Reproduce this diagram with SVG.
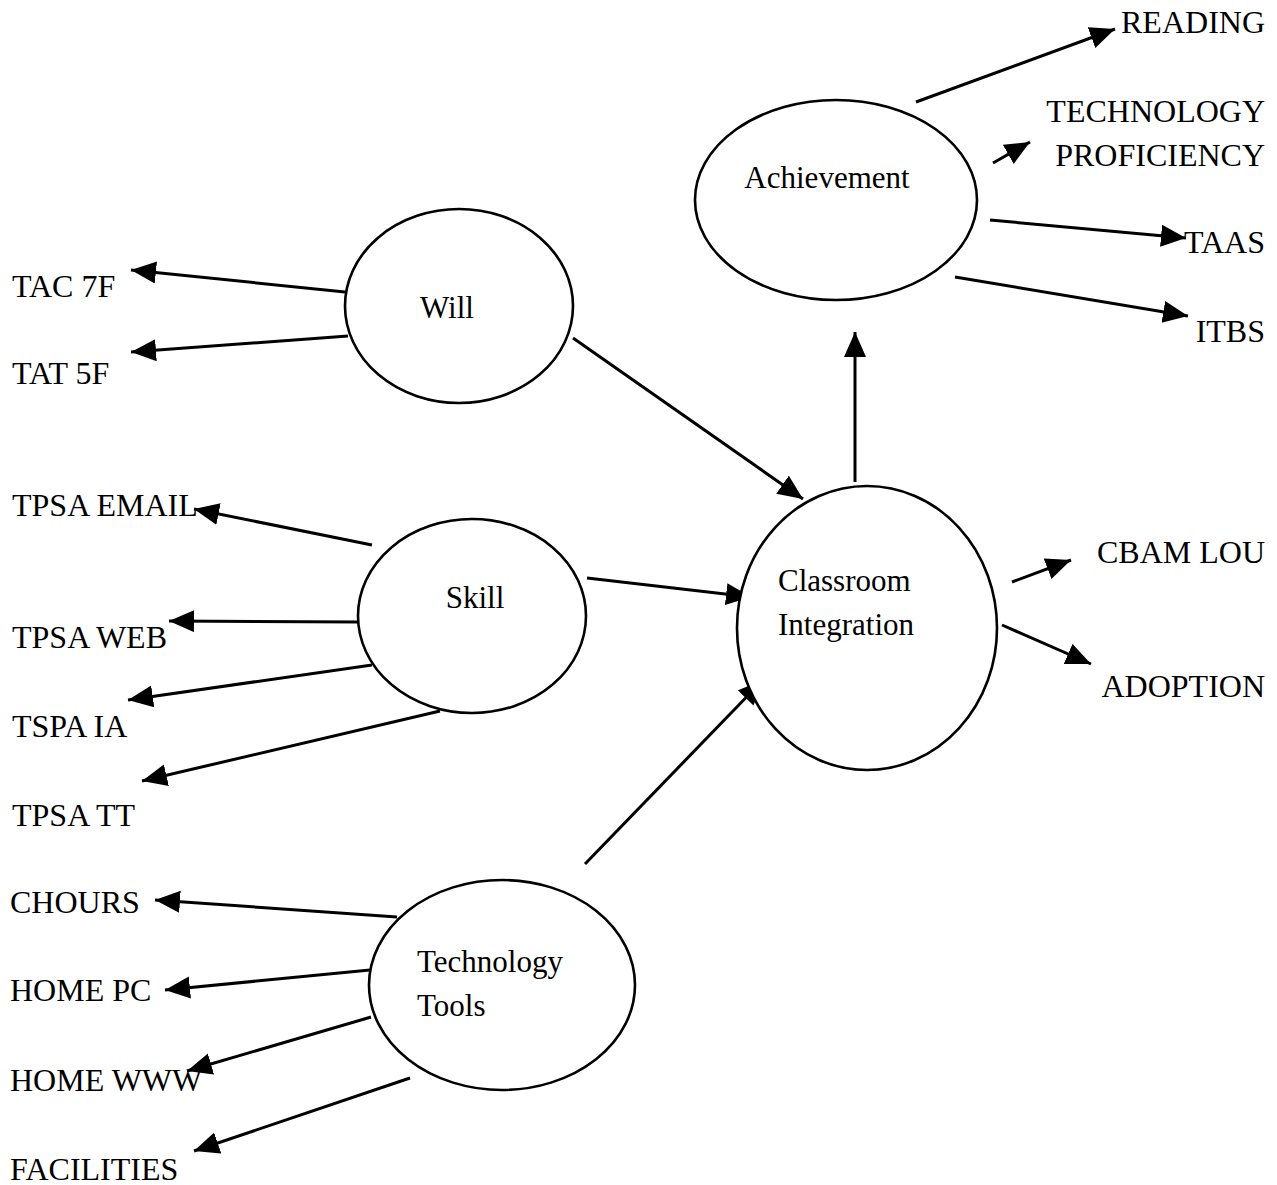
<svg xmlns="http://www.w3.org/2000/svg" width="1277" height="1185" viewBox="0 0 1277 1185">
<defs>
<marker id="ah" markerUnits="userSpaceOnUse" markerWidth="28" markerHeight="24" refX="25" refY="11" orient="auto">
<path d="M0,0 L25,11 L0,22 z" fill="#000"/>
</marker>
<style>
.n{fill:#fff;stroke:#000;stroke-width:2.6}
.t{font-family:"Liberation Serif","Times New Roman",serif;font-size:32px;fill:#000}
.nt{font-family:"Liberation Serif","Times New Roman",serif;font-size:31px;fill:#000}
.c line{stroke:#000;stroke-width:3;marker-end:url(#ah)}
</style>
</defs>
<rect width="1277" height="1185" fill="#fff"/>
<g id="connectors" class="c">
<line x1="916" y1="102" x2="1115" y2="29"/>
<line x1="993" y1="163" x2="1030" y2="142"/>
<line x1="990" y1="220" x2="1186" y2="238"/>
<line x1="955" y1="277" x2="1188" y2="316"/>
<line x1="855" y1="482" x2="855" y2="332"/>
<line x1="345" y1="292" x2="131" y2="270"/>
<line x1="348" y1="336" x2="131" y2="352"/>
<line x1="573" y1="338" x2="803" y2="499"/>
<line x1="372" y1="545" x2="194" y2="509"/>
<line x1="358" y1="622" x2="169" y2="621"/>
<line x1="372" y1="665" x2="128" y2="700"/>
<line x1="440" y1="711" x2="142" y2="781"/>
<line x1="587" y1="578" x2="751" y2="597"/>
<line x1="585" y1="864" x2="763" y2="680"/>
<line x1="397" y1="917" x2="155" y2="900"/>
<line x1="370" y1="970" x2="165" y2="990"/>
<line x1="371" y1="1017" x2="187" y2="1071"/>
<line x1="410" y1="1078" x2="194" y2="1151"/>
<line x1="1012" y1="582" x2="1071" y2="560"/>
<line x1="1002" y1="625" x2="1091" y2="664"/>
</g>
<g id="achievement"><ellipse class="n" cx="836" cy="200" rx="141" ry="100"/><text class="nt" x="827" y="188" text-anchor="middle">Achievement</text></g>
<g id="will"><ellipse class="n" cx="459" cy="306" rx="114" ry="97"/><text class="nt" x="447" y="318" text-anchor="middle">Will</text></g>
<g id="skill"><ellipse class="n" cx="472" cy="616" rx="114" ry="97"/><text class="nt" x="475" y="608" text-anchor="middle">Skill</text></g>
<g id="classroom"><ellipse class="n" cx="867" cy="628" rx="130" ry="142"/><text class="nt" x="778" y="591">Classroom</text><text class="nt" x="778" y="635">Integration</text></g>
<g id="tools"><ellipse class="n" cx="502" cy="985" rx="133" ry="105"/><text class="nt" x="417" y="972">Technology</text><text class="nt" x="417" y="1016">Tools</text></g>
<g id="reading"><text class="t" x="1265" y="33" text-anchor="end">READING</text></g>
<g id="techprof"><text class="t" x="1265" y="122" text-anchor="end">TECHNOLOGY</text><text class="t" x="1265" y="166" text-anchor="end">PROFICIENCY</text></g>
<g id="taas"><text class="t" x="1265" y="253" text-anchor="end">TAAS</text></g>
<g id="itbs"><text class="t" x="1265" y="342" text-anchor="end">ITBS</text></g>
<g id="cbam"><text class="t" x="1265" y="563" text-anchor="end">CBAM LOU</text></g>
<g id="adoption"><text class="t" x="1265" y="697" text-anchor="end">ADOPTION</text></g>
<g id="tac7f"><text class="t" x="12" y="297">TAC 7F</text></g>
<g id="tat5f"><text class="t" x="12" y="384">TAT 5F</text></g>
<g id="email"><text class="t" x="12" y="516">TPSA EMAIL</text></g>
<g id="web"><text class="t" x="12" y="648">TPSA WEB</text></g>
<g id="ia"><text class="t" x="12" y="737">TSPA IA</text></g>
<g id="tt"><text class="t" x="12" y="826">TPSA TT</text></g>
<g id="chours"><text class="t" x="10" y="913">CHOURS</text></g>
<g id="homepc"><text class="t" x="10" y="1001">HOME PC</text></g>
<g id="homewww"><text class="t" x="10" y="1091">HOME WWW</text></g>
<g id="facilities"><text class="t" x="10" y="1180">FACILITIES</text></g>
</svg>
